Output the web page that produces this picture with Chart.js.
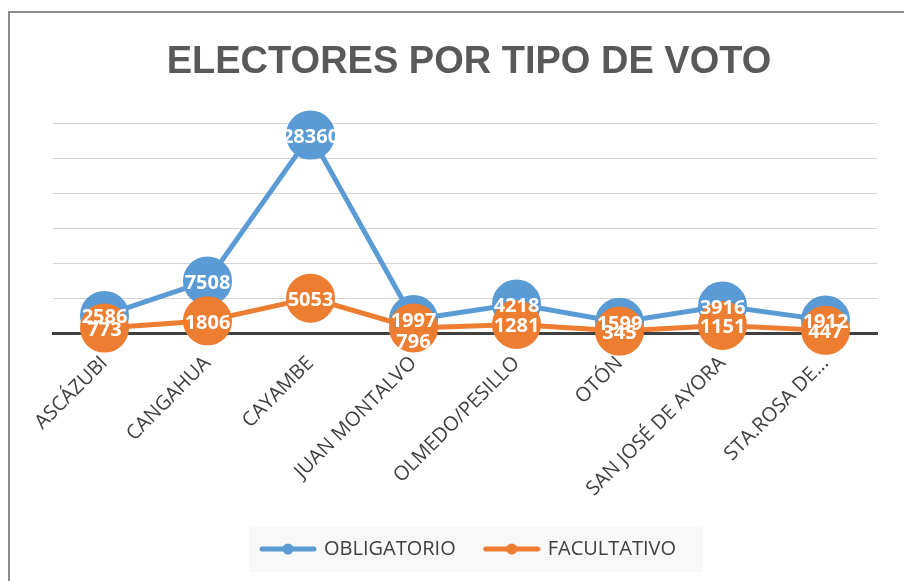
<!DOCTYPE html>
<html>
<head>
<meta charset="utf-8">
<script src="https://cdn.jsdelivr.net/npm/chart.js@4/dist/chart.umd.min.js"></script>
<style>
  html, body { margin: 0; padding: 0; background: #fff; overflow: hidden; }
  #wrap { position: relative; width: 904px; height: 581px; }
  #frame { position: absolute; left: 8px; top: 11px; width: 1000px; height: 1000px;
           border-top: 2px solid #8c8c8c; border-left: 2px solid #8c8c8c; pointer-events: none; }
</style>
</head>
<body>
<div id="wrap">
  <canvas id="lineChart" width="904" height="581"></canvas>
  <div id="frame"></div>
</div>
<script>
const parroquias = ['ASCÁZUBI', 'CANGAHUA', 'CAYAMBE', 'JUAN MONTALVO', 'OLMEDO/PESILLO', 'OTÓN', 'SAN JOSÉ DE AYORA', 'STA.ROSA DE...'];
const obligatorio = [2586, 7508, 28360, 1997, 4218, 1599, 3916, 1912];
const facultativo = [773, 1806, 5053, 796, 1281, 345, 1151, 447];

const blue = '#5b9bd5';
const orange = '#ed7d31';

// little line-with-dot swatch for the legend
function swatch(color) {
  const c = document.createElement('canvas');
  c.width = 58; c.height = 14;
  const g = c.getContext('2d');
  g.strokeStyle = color;
  g.lineWidth = 5;
  g.lineCap = 'round';
  g.beginPath(); g.moveTo(3, 7); g.lineTo(55, 7); g.stroke();
  g.fillStyle = color;
  g.beginPath(); g.arc(29, 7, 5.5, 0, Math.PI * 2); g.fill();
  return c;
}

// white value labels on top of the markers
const pointLabels = {
  id: 'pointLabels',
  afterDatasetsDraw(chart, args, opts) {
    const ctx = chart.ctx;
    ctx.save();
    ctx.font = 'bold 20px "Open Sans"';
    ctx.fillStyle = '#fff';
    ctx.textAlign = 'center';
    ctx.textBaseline = 'middle';
    chart.data.datasets.forEach((ds, i) => {
      chart.getDatasetMeta(i).data.forEach((pt, j) => {
        const shift = (opts.shift && opts.shift[i + '-' + j]) || 0;
        ctx.fillText(ds.data[j], pt.x, pt.y + 2 + shift);
      });
    });
    ctx.restore();
  }
};

// light grey box behind the legend
const legendBox = {
  id: 'legendBox',
  beforeDraw(chart) {
    const boxes = chart.legend && chart.legend.legendHitBoxes;
    if (!boxes || !boxes.length) return;
    const left = Math.min(...boxes.map(b => b.left)) - 13;
    const right = Math.max(...boxes.map(b => b.left + b.width)) + 27;
    const midY = boxes[0].top + boxes[0].height / 2;
    const ctx = chart.ctx;
    ctx.save();
    ctx.fillStyle = '#f8f8f8';
    ctx.fillRect(left, midY - 23, right - left, 46);
    ctx.restore();
  }
};

new Chart(document.getElementById('lineChart'), {
  type: 'line',
  data: {
    labels: parroquias,
    datasets: [
      {
        label: 'OBLIGATORIO',
        data: obligatorio,
        borderColor: blue,
        backgroundColor: blue,
        pointBackgroundColor: blue,
        pointBorderColor: blue,
        borderWidth: 5,
        pointRadius: 22,
        pointHoverRadius: 22,
        tension: 0,
        order: 1,
        pointStyle: 'circle'
      },
      {
        label: 'FACULTATIVO',
        data: facultativo,
        borderColor: orange,
        backgroundColor: orange,
        pointBackgroundColor: orange,
        pointBorderColor: orange,
        borderWidth: 5,
        pointRadius: 22,
        pointHoverRadius: 22,
        tension: 0,
        order: 0,
        pointStyle: 'circle'
      }
    ]
  },
  options: {
    responsive: false,
    animation: false,
    events: [],
    clip: false,
    layout: { padding: { left: 53, right: 19, top: 0, bottom: 12 } },
    scales: {
      x: {
        offset: true,
        grid: { display: false },
        border: { display: true, color: '#404040', width: 3 },
        ticks: {
          color: '#404040',
          font: { family: 'Open Sans', size: 20 },
          minRotation: 45,
          maxRotation: 45,
          autoSkip: false,
          padding: 10
        },
        afterFit(scale) { scale.height = 175.5; }
      },
      y: {
        min: 0,
        max: 30000,
        ticks: { display: false, stepSize: 5000 },
        grid: { color: '#d4d4d4', lineWidth: 1, drawTicks: false },
        border: { display: false }
      }
    },
    plugins: {
      title: {
        display: true,
        text: 'ELECTORES POR TIPO DE VOTO',
        color: '#595959',
        font: { family: '"Liberation Sans", Arial, sans-serif', size: 38, weight: 'bold' },
        padding: { top: 40, bottom: 38 }
      },
      legend: {
        position: 'bottom',
        labels: {
          usePointStyle: true,
          pointStyleWidth: 52,
          padding: 30,
          color: '#404040',
          font: { family: 'Open Sans', size: 20 },
          sort: (a, b) => a.datasetIndex - b.datasetIndex,
          generateLabels(chart) {
            return chart.data.datasets.map((ds, i) => ({
              text: ds.label,
              datasetIndex: i,
              pointStyle: swatch(ds.borderColor),
              fillStyle: ds.borderColor,
              strokeStyle: ds.borderColor,
              lineWidth: 0,
              fontColor: '#404040'
            }));
          }
        }
      },
      tooltip: { enabled: false },
      pointLabels: { shift: { '1-3': 12 } }
    }
  },
  plugins: [legendBox, pointLabels]
});
</script>
</body>
</html>
